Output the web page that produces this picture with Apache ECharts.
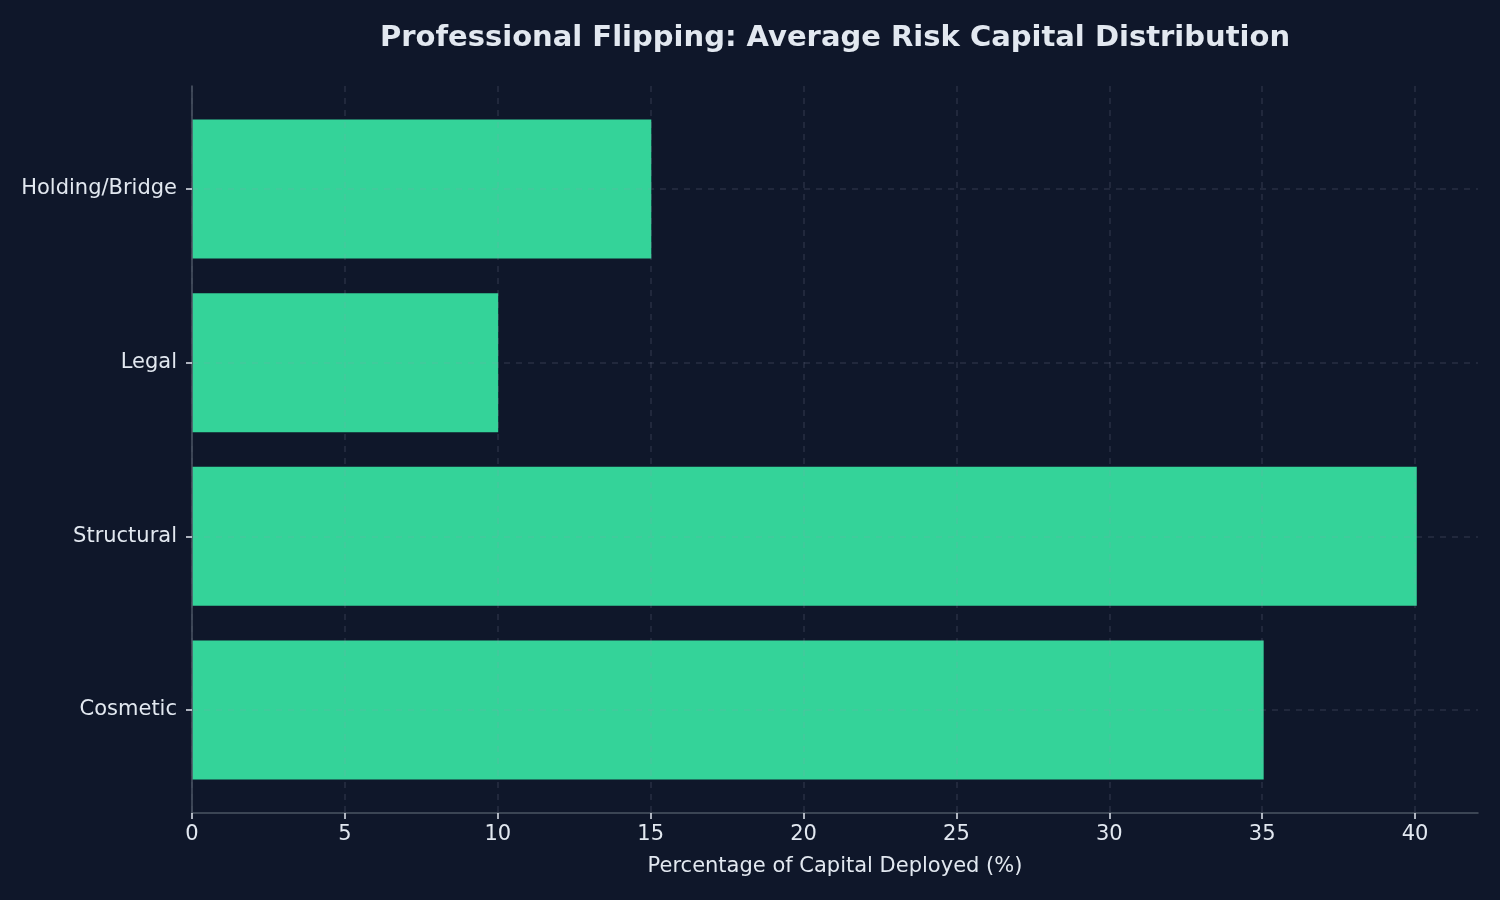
<!DOCTYPE html>
<html>
<head>
<meta charset="utf-8">
<script src="https://cdn.jsdelivr.net/npm/echarts@6/dist/echarts.min.js"></script>
<style>
  html, body { margin: 0; padding: 0; background: #0f172a; }
  #chart { width: 1500px; height: 900px; }
</style>
</head>
<body>
<div id="chart"></div>
<script>
// data, bottom to top
const categories = ['Cosmetic', 'Structural', 'Legal', 'Holding/Bridge'];
const capitalShare = [35, 40, 10, 15];
const xTickStep = 5;
const xTickMax = 40;
const xAxisMax = 42;

const textColor = '#e2e8f0';
const gridColor = 'rgba(148,163,184,0.18)';
const axisColor = '#4b5563';
const font = 'DejaVu Sans';

const chart = echarts.init(document.getElementById('chart'));

chart.setOption({
  backgroundColor: '#0f172a',
  animation: false,
  title: {
    text: 'Professional Flipping: Average Risk Capital Distribution',
    left: 830,
    top: 19,
    textAlign: 'center',
    textStyle: { color: textColor, fontFamily: font, fontSize: 29, fontWeight: 'bold' }
  },
  grid: [
    // frame: x ticks, labels and vertical grid lines (0..40)
    { left: 192, right: 85, top: 86, bottom: 87 },
    // bars: category centers from first to last, full 0..42 width
    { left: 192, right: 22, top: 189, bottom: 190 }
  ],
  xAxis: [
    {
      gridIndex: 0,
      type: 'value',
      min: 0,
      max: xTickMax,
      interval: xTickStep,
      z: 5,
      axisLine: { show: false },
      axisTick: { show: true, length: 6, lineStyle: { color: textColor, width: 1.5 } },
      axisLabel: { color: textColor, fontFamily: font, fontSize: 21, margin: 11 },
      splitLine: { show: true, lineStyle: { color: gridColor, type: [6, 6], width: 1.5 } }
    },
    {
      gridIndex: 1,
      type: 'value',
      min: 0,
      max: xAxisMax,
      position: 'bottom',
      offset: 103,
      z: 5,
      name: 'Percentage of Capital Deployed (%)',
      nameLocation: 'middle',
      nameGap: 43,
      nameTextStyle: { color: textColor, fontFamily: font, fontSize: 21 },
      axisLine: { show: true, lineStyle: { color: axisColor, width: 1.5 } },
      axisTick: { show: false },
      axisLabel: { show: false },
      splitLine: { show: false }
    }
  ],
  yAxis: [
    {
      gridIndex: 0,
      type: 'value',
      min: 0,
      max: 1,
      z: 5,
      axisLine: { show: true, lineStyle: { color: axisColor, width: 1.5 } },
      axisTick: { show: false },
      axisLabel: { show: false },
      splitLine: { show: false }
    },
    {
      gridIndex: 1,
      type: 'category',
      data: categories,
      boundaryGap: false,
      z: 5,
      axisLine: { show: false },
      axisTick: { show: true, length: 6, lineStyle: { color: textColor, width: 1.5 } },
      axisLabel: { color: textColor, fontFamily: font, fontSize: 21, margin: 15, padding: [6, 0, 0, 0] },
      splitLine: { show: true, lineStyle: { color: gridColor, type: [6, 6], width: 1.5 } }
    }
  ],
  series: [
    {
      type: 'bar',
      xAxisIndex: 1,
      yAxisIndex: 1,
      data: capitalShare,
      barWidth: 139,
      clip: false,
      z: 1,
      itemStyle: { color: '#34d399' }
    }
  ]
});
</script>
</body>
</html>
